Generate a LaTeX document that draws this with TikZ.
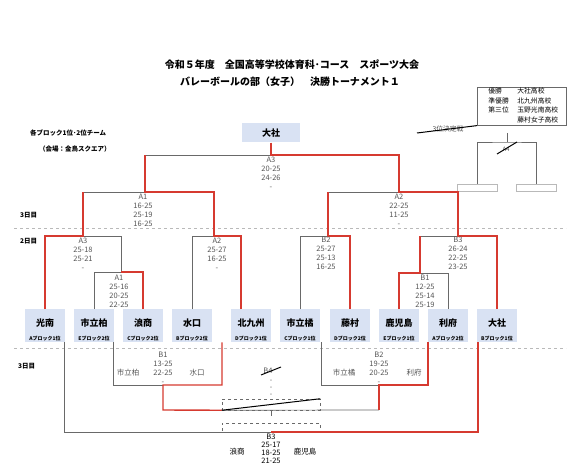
\documentclass[tikz,border=0pt]{standalone}
\usepackage{fontspec}
\setmainfont{Noto Sans CJK JP}
\usepackage{tikz}
\usetikzlibrary{positioning}
\definecolor{vbred}{RGB}{214, 58, 48}
\definecolor{vbgray}{RGB}{105, 105, 105}
\definecolor{vblight}{RGB}{217, 226, 243}
\definecolor{scoretext}{RGB}{85, 85, 85}
\definecolor{sepgray}{RGB}{185, 185, 185}

\tikzset{
  winline/.style={draw=vbred, line width=1.4pt},
  loseline/.style={draw=vbgray, line width=0.7pt},
  strikeline/.style={draw=black, line width=1pt},
  daysep/.style={draw=sepgray, dashed, line width=0.7pt},
  team/.style={fill=vblight, minimum width=40pt, minimum height=33pt, inner sep=0pt,
    anchor=north, text height=9pt, text depth=8pt, font=\fontsize{9}{9}\selectfont\bfseries},
  blocklabel/.style={anchor=south, inner sep=1.5pt, font=\fontsize{5}{5}\selectfont\bfseries},
  champbox/.style={fill=vblight, minimum width=58pt, minimum height=19pt, inner sep=0pt,
    font=\fontsize{9}{9}\selectfont\bfseries},
  score/.style={anchor=north, inner sep=0pt, align=center, text=scoretext,
    font=\fontsize{7.5}{9}\selectfont},
  sidename/.style={inner sep=0pt, text=scoretext, font=\fontsize{7.5}{7.5}\selectfont},
  titletext/.style={inner sep=0pt, font=\fontsize{10}{12}\selectfont\bfseries},
  note/.style={anchor=west, inner sep=0pt, font=\fontsize{6.5}{6.5}\selectfont\bfseries},
  daylabel/.style={anchor=west, inner sep=0pt, font=\fontsize{6.5}{6.5}\selectfont\bfseries},
  slotbox/.style={draw=sepgray, line width=0.5pt, minimum width=40pt, minimum height=7pt, inner sep=0pt},
  voidbox/.style={draw=vbgray, dashed, line width=0.5pt, minimum width=98pt, inner sep=0pt}
}

\begin{document}
\begin{tikzpicture}[x=1pt, y=-1pt]
\useasboundingbox (0,0) rectangle (587,468);

% heading
\node[titletext] (title1) at (292,65) {令和５年度　全国高等学校体育科･コース　スポーツ大会};
\node[titletext] (title2) at (290,82) {バレーボールの部（女子）　決勝トーナメント１};
\node[note] (blocks) at (30,133) {各ブロック1位･2位チーム};
\node[note] (venue) at (39,149) {（会場：金鳥スクエア）};

% final standings
\node[draw=vbgray, line width=0.6pt, anchor=north west, inner sep=0pt,
      minimum width=89pt, minimum height=38pt, font=\fontsize{6.8}{9.5}\selectfont]
  (results) at (477,87) {%
  \begin{tabular}{@{\hspace{3pt}}p{29pt}@{}l@{}}
  優勝 & 大社高校\\
  準優勝 & 北九州高校\\
  第三位 & 玉野光南高校\\
   & 藤村女子高校
  \end{tabular}};

% 3rd place match (not held)
\node[sidename, font=\fontsize{6.8}{6.8}\selectfont] (bronzelbl) at (448,129) {3位決定戦};
\coordinate (bronze-a) at (417,133);
\draw[strikeline] (bronze-a) -- (results.south west);
\coordinate (tr-top) at (507,133);
\coordinate (tr-mid) at (507,142);
\node[slotbox] (tr-l) at (477,187.5) {};
\node[slotbox] (tr-r) at (536.5,187.5) {};
\draw[loseline] (tr-top) -- (tr-mid);
\draw[loseline] (tr-l.north) |- (tr-mid) -| (tr-r.north);
\node[sidename, font=\fontsize{6}{6}\selectfont] (tr-lbl) at (506,149) {A4};
\draw[strikeline] ([shift={(-9pt,-5pt)}]tr-lbl.center) -- ([shift={(11pt,7pt)}]tr-lbl.center);

% champion
\node[champbox] (champion) at (271,133) {大社};

% day separators
\coordinate (sep1-l) at (14,228);
\coordinate (sep1-r) at (566,228);
\coordinate (sep2-l) at (14,348);
\coordinate (sep2-r) at (566,348);
\draw[daysep] (sep1-l) -- (sep1-r);
\draw[daysep] (sep2-l) -- (sep2-r);
\node[daylabel] (day3a) at (20,215) {3日目};
\node[daylabel] (day2) at (20,241) {2日目};
\node[daylabel] (day3b) at (18,366) {3日目};

% teams
\node[team, label={[blocklabel]south:Aブロック1位}] (kounan) at (45,309) {光南};
\node[team, label={[blocklabel]south:Eブロック2位}] (kashiwa) at (94,309) {市立柏};
\node[team, label={[blocklabel]south:Cブロック2位}] (namisho) at (143,309) {浪商};
\node[team, label={[blocklabel]south:Bブロック2位}] (minakuchi) at (192,309) {水口};
\node[team, label={[blocklabel]south:Dブロック1位}] (kitakyu) at (251,309) {北九州};
\node[team, label={[blocklabel]south:Cブロック1位}] (tachibana) at (300,309) {市立橘};
\node[team, label={[blocklabel]south:Dブロック2位}] (fujimura) at (350,309) {藤村};
\node[team, label={[blocklabel]south:Eブロック1位}] (kagoshima) at (399,309) {鹿児島};
\node[team, label={[blocklabel]south:Aブロック2位}] (rifu) at (448,309) {利府};
\node[team, label={[blocklabel]south:Bブロック1位}] (taisha) at (497,309) {大社};

% bracket joints
\coordinate (d2a3) at (83,236);
\coordinate (d2a1) at (121,272);
\coordinate (d2a2) at (214,236);
\coordinate (d2b2) at (328,236);
\coordinate (d2b1) at (420,273);
\coordinate (d2b3) at (458,236);
\coordinate (d3a1) at (145,192);
\coordinate (d3a2) at (399,192);
\coordinate (d3a3) at (271,155);
\coordinate (d3b1) at (163,385);
\coordinate (d3b2) at (379,385);
\coordinate (d3b4) at (271,410);
\coordinate (d3b3) at (271,432);

% day 2 and upper day 3
\draw[loseline] (d2a3) -| (d2a1);
\draw[loseline] (kashiwa.north) |- (d2a1);
\draw[loseline] (minakuchi.north) |- (d2a2);
\draw[loseline] (d2a3 |- d3a1) -- (d3a1);
\draw[loseline] (d3a1 |- d3a3) -- (d3a3);
\draw[loseline] (tachibana.north) |- (d2b2);
\draw[loseline] (d2b2 |- d3a2) -- (d3a2);
\draw[loseline] (rifu.north) |- (d2b1);
\draw[loseline] (d2b1 |- d2b3) -- (d2b3);
\draw[winline] (kounan.north) |- (d2a3) -- (d2a3 |- d3a1);
\draw[winline] (namisho.north) |- (d2a1);
\draw[winline] ([xshift=-10pt]kitakyu.north) |- (d2a2) |- (d3a1) -- (d3a1 |- d3a3);
\draw[winline] (fujimura.north) |- (d2b2) -- (d2b2 |- d3a2);
\draw[winline] (kagoshima.north) |- (d2b1) -- (d2b1 |- d2b3);
\draw[winline] (champion.south) -- (d3a3) -| (d3a2) -| (d2b3) -| (taisha.north);

% scores
\node[score] (s-final) at (271,157) {A3\\20-25\\24-26\\-};
\node[score] (s-d3a1) at (143,194) {A1\\16-25\\25-19\\16-25};
\node[score] (s-d3a2) at (399,194) {A2\\22-25\\11-25\\-};
\node[score] (s-d2a3) at (83,238) {A3\\25-18\\25-21\\-};
\node[score] (s-d2a1) at (119,275) {A1\\25-16\\20-25\\22-25};
\node[score] (s-d2a2) at (217,238) {A2\\25-27\\16-25\\-};
\node[score] (s-d2b2) at (326,237) {B2\\25-27\\25-13\\16-25};
\node[score] (s-d2b3) at (458,237) {B3\\26-24\\22-25\\23-25};
\node[score] (s-d2b1) at (425,275) {B1\\12-25\\25-14\\25-19};

% lower day 3
\node[voidbox, minimum height=11pt] (b4box) at (271,404.5) {};
\node[voidbox, minimum height=9pt] (b3box) at (271,427.5) {};
\draw[loseline] ([xshift=19pt]kashiwa.south) |- (d3b1);
\draw[loseline] ([xshift=21pt]tachibana.south) |- (d3b2);
\draw[loseline] (b4box.south west) -- (d3b2 |- d3b4);
\draw[loseline] (d3b4) -- ([yshift=7pt]b3box.north);
\draw[loseline] ([xshift=19pt]kounan.south) |- (d3b3);
\draw[winline] ([xshift=30pt]minakuchi.south) |- (d3b1) -- (d3b1 |- d3b4) -- (b4box.south west);
\draw[winline] ([xshift=-20pt]rifu.south) |- (d3b2) -- (d3b2 |- d3b4);
\draw[winline] ([xshift=-19pt]taisha.south) |- (d3b3);
\draw[strikeline] (b4box.south west) -- (b4box.north east);

\node[score] (s-lb1) at (163,352) {B1\\13-25\\22-25\\-};
\node[sidename] (lb1-left) at (128,373) {市立柏};
\node[sidename] (lb1-right) at (197,373) {水口};
\node[score] (s-lb2) at (379,352) {B2\\19-25\\20-25\\-};
\node[sidename] (lb2-left) at (344,373) {市立橘};
\node[sidename] (lb2-right) at (414,373) {利府};
\node[sidename] (s-lb4) at (268,371) {B4};
\draw[strikeline] ([shift={(-7pt,-4pt)}]s-lb4.center) -- ([shift={(13pt,4pt)}]s-lb4.center);
\node[score, font=\fontsize{7}{7}\selectfont] (s-lb4dash) at (271,380) {-\\-\\-};
\node[score, text=black, font=\fontsize{7.5}{8}\selectfont] (s-lb3) at (271,434) {B3\\25-17\\18-25\\21-25};
\node[sidename, text=black] (lb3-left) at (237,452) {浪商};
\node[sidename, text=black] (lb3-right) at (305,452) {鹿児島};
\end{tikzpicture}
\end{document}
